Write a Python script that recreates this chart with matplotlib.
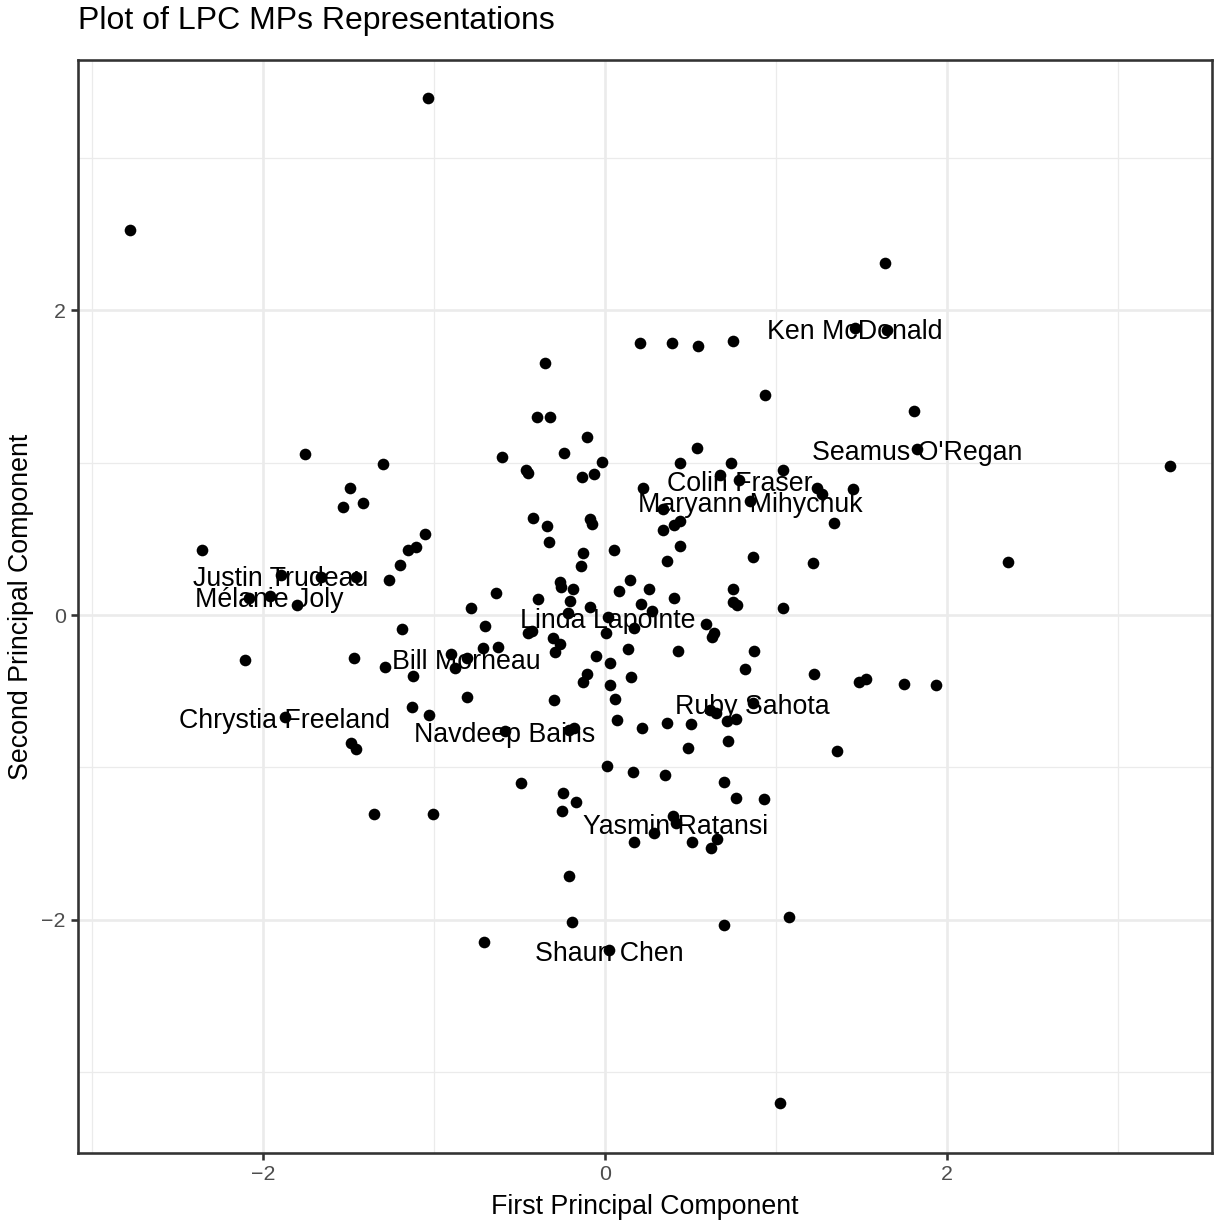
import matplotlib
matplotlib.use("Agg")
import matplotlib.pyplot as plt
from matplotlib.ticker import MultipleLocator

plt.rcParams["font.family"] = ["Liberation Sans", "DejaVu Sans"]

# principal component scores for each MP (unlabelled)
pc1 = [
    -1.035, -2.776, 1.640, 1.649, 0.203, 0.390, 0.546, 0.750, 0.936, -0.349,
    -0.396, -0.322, 1.807, 3.306, 2.355, 1.487, 1.526, 1.749, 1.934, 1.452,
    0.540, 0.439, 0.735, 1.039, 0.673, 0.224, 1.238, 1.269, 0.337, 1.339,
    0.439, 0.405, 0.337, 0.053, 0.439, 0.864, 0.363, 1.215, 0.146, 0.080,
    0.256, 0.404, 0.747, 0.747, 0.770, 1.043, 0.209, 0.277, 0.171, 0.591,
    0.639, 0.624, 0.135, 0.427, 0.871, 0.819, 1.222, 0.029, 0.154, 0.030,
    0.056, 0.070, 0.216, 0.361, 0.503, 0.614, 0.649, 0.712, 0.766, 0.487,
    0.721, 1.355, 0.010, 0.166, 0.351, 0.694, 0.766, 0.932,
    0.400, 0.285, 0.170, 0.511, 0.657, 0.620, 1.074, 0.698, 1.023,
    -1.351, -1.004, -0.244, -0.171, -0.253, -0.209, -0.195, -0.706,
    -0.107, -0.238, -0.601, -1.300, -0.462, -0.452, -0.019, -0.135, -0.066, -0.419,
    -0.339, -0.326, -0.088, -0.074, -0.127, -0.142, -1.053, -1.107, -1.150, -1.199,
    -1.265, -0.637, -0.785, -0.394, -0.263, -0.257, -0.189, -0.205, -0.086, -0.218,
    0.004, -0.448, -0.425, -0.702, -1.189, -0.302, -0.263, -0.292, -0.712, -0.628,
    -0.903, -0.877, -1.287, -1.123, -0.051, -0.103, -0.131, -0.809, -0.298, -1.131,
    -1.029, -0.209, -0.181, -0.493,
    -1.754, -1.493, -1.532, -1.417, -2.355, -1.663, -1.454, -2.084, -1.799, -2.103,
    -1.468, -1.484, -1.454,
]
pc2 = [
    3.395, 2.528, 2.311, 1.871, 1.786, 1.786, 1.766, 1.799, 1.445, 1.653,
    1.300, 1.300, 1.342, 0.978, 0.348, -0.438, -0.422, -0.455, -0.460, 0.827,
    1.097, 0.996, 0.996, 0.952, 0.919, 0.832, 0.836, 0.794, 0.694, 0.602,
    0.619, 0.589, 0.558, 0.427, 0.455, 0.379, 0.357, 0.344, 0.230, 0.160,
    0.169, 0.114, 0.169, 0.088, 0.066, 0.048, 0.070, 0.026, -0.087, -0.059,
    -0.120, -0.147, -0.223, -0.234, -0.238, -0.352, -0.387, -0.317, -0.409, -0.460,
    -0.550, -0.690, -0.744, -0.711, -0.716, -0.624, -0.641, -0.696, -0.685, -0.871,
    -0.827, -0.891, -0.992, -1.031, -1.053, -1.099, -1.200, -1.210,
    -1.320, -1.434, -1.488, -1.493, -1.473, -1.530, -1.981, -2.034, -3.204,
    -1.307, -1.309, -1.167, -1.230, -1.285, -1.714, -2.014, -2.147,
    1.167, 1.066, 1.037, 0.993, 0.950, 0.932, 1.005, 0.904, 0.926, 0.637,
    0.584, 0.481, 0.630, 0.595, 0.405, 0.324, 0.532, 0.449, 0.427, 0.328,
    0.230, 0.147, 0.048, 0.105, 0.215, 0.186, 0.173, 0.092, 0.055, 0.011,
    -0.116, -0.120, -0.105, -0.072, -0.090, -0.153, -0.193, -0.241, -0.214, -0.208,
    -0.258, -0.350, -0.339, -0.401, -0.269, -0.387, -0.442, -0.536, -0.558, -0.606,
    -0.657, -0.755, -0.744, -1.105,
    1.057, 0.834, 0.711, 0.733, 0.425, 0.248, 0.248, 0.110, 0.066, -0.295,
    -0.280, -0.843, -0.882,
]

# MPs that get a name label
named = [
    "Ken McDonald", "Seamus O'Regan", "Colin Fraser", "Maryann Mihychuk",
    "Justin Trudeau", "Mélanie Joly", "Linda Lapointe", "Bill Morneau",
    "Ruby Sahota", "Chrystia Freeland", "Navdeep Bains", "Yasmin Ratansi",
    "Shaun Chen",
]
named_pc1 = [1.462, 1.823, 0.786, 0.848, -1.897, -1.961, 0.016, -0.809,
             0.864, -1.873, -0.585, 0.415, 0.025]
named_pc2 = [1.884, 1.088, 0.886, 0.749, 0.263, 0.125, -0.011, -0.285,
             -0.580, -0.668, -0.762, -1.368, -2.200]

W, H, DPI = 1225, 1224, 175
fig = plt.figure(figsize=(W / DPI, H / DPI), dpi=DPI)
left, right, top, bottom = 78, 1212, 60, 1153
ax = fig.add_axes([left / W, 1 - bottom / H, (right - left) / W, (bottom - top) / H])

ax.scatter(pc1, pc2, s=23, color="black", linewidths=0, zorder=3)
ax.scatter(named_pc1, named_pc2, s=23, color="black", linewidths=0, zorder=3)
for name, x, y in zip(named, named_pc1, named_pc2):
    # nudge down a touch so the glyph body sits centred on the point
    ax.annotate(name, (x, y), xytext=(0, -1.6), textcoords="offset points",
                ha="center", va="center", fontsize=11, color="black", zorder=4)

ax.set_xlim(-3.082, 3.55)
ax.set_ylim(-3.532, 3.644)

# theme_bw look
ax.xaxis.set_major_locator(MultipleLocator(2))
ax.yaxis.set_major_locator(MultipleLocator(2))
ax.xaxis.set_minor_locator(MultipleLocator(1))
ax.yaxis.set_minor_locator(MultipleLocator(1))
ax.grid(which="major", color="#EBEBEB", linewidth=1.07, zorder=0)
ax.grid(which="minor", color="#EBEBEB", linewidth=0.53, zorder=0)
ax.set_axisbelow(True)
for sp in ax.spines.values():
    sp.set_color("#333333")
    sp.set_linewidth(1.07)
ax.tick_params(which="major", length=2.75, width=1.07, color="#333333",
               labelsize=8.8, labelcolor="#4D4D4D", pad=2.2)
ax.tick_params(which="minor", length=0)

ax.set_xlabel("First Principal Component", fontsize=11, labelpad=4)
ax.set_ylabel("Second Principal Component", fontsize=11, labelpad=3)
fig.text(left / W, 1 - 29 / H, "Plot of LPC MPs Representations",
         fontsize=13.2, ha="left", va="baseline")

fig.savefig("out.png", dpi=DPI)
